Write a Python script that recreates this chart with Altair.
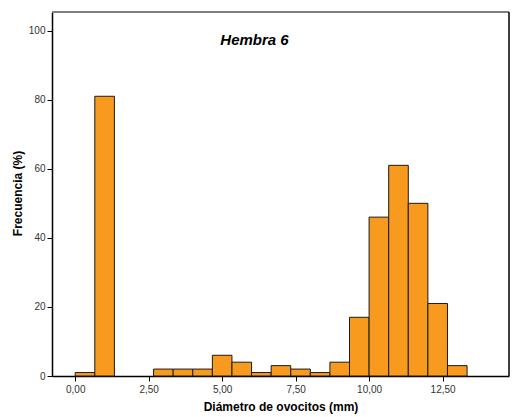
import altair as alt
import pandas as pd

# Histogram of oocyte diameter (bin width 2/3 mm, 20 bins from 0 to 13.33 mm)
bin_width = 2.0 / 3.0
bin_index = list(range(20))
frequency = [1, 81, 0, 0, 2, 2, 2, 6, 4, 1, 3, 2, 1, 4, 17, 46, 61, 50, 21, 3]

x_ticks = [0, 2.5, 5, 7.5, 10, 12.5]
y_ticks = [0, 20, 40, 60, 80, 100]

label_text = ["Hembra 6"]
label_x = [6.1]
label_y = [97.2]

bars = pd.DataFrame({
    "start": [i * bin_width for i in bin_index],
    "end": [(i + 1) * bin_width for i in bin_index],
    "freq": frequency,
    "base": [0] * len(bin_index),
})
bars = bars[bars["freq"] > 0]

x_scale = alt.Scale(domain=[-0.79, 14.76], nice=False, zero=False)
y_scale = alt.Scale(domain=[0, 105.4], nice=False)

FONT = "Liberation Sans"

hist = alt.Chart(bars).mark_bar(
    fill="#F89A1E", stroke="#1a1a1a", strokeWidth=1
).encode(
    x=alt.X("start:Q", scale=x_scale,
            axis=alt.Axis(values=x_ticks, title="Diámetro de ovocitos (mm)",
                          labelExpr="replace(format(datum.value, '.2f'), '.', ',')",
                          grid=False, tickSize=5, labelPadding=3, titlePadding=7)),
    x2="end:Q",
    y=alt.Y("freq:Q", scale=y_scale,
            axis=alt.Axis(values=y_ticks, title="Frecuencia (%)", format="d",
                          grid=False, tickSize=5, labelPadding=2,
                          titleX=-28, titleY=181)),
    y2="base:Q",
)

label = alt.Chart(pd.DataFrame({"t": label_text, "x": label_x, "y": label_y})).mark_text(
    font=FONT, fontSize=15, fontWeight="bold", fontStyle="italic", color="#000000"
).encode(
    x=alt.X("x:Q", scale=x_scale),
    y=alt.Y("y:Q", scale=y_scale),
    text="t:N",
)

# Frame: grey top edge, black right edge
top_edge = alt.Chart(pd.DataFrame({"a": [0]})).mark_rule(color="#7f7f7f", strokeWidth=2).encode(
    x=alt.value(0), x2=alt.value(457), y=alt.value(0)
)
right_edge = alt.Chart(pd.DataFrame({"a": [0]})).mark_rule(color="#000000", strokeWidth=1.5).encode(
    x=alt.value(457), y=alt.value(0), y2=alt.value(364)
)

chart = alt.layer(hist, label, top_edge, right_edge).properties(
    width=457,
    height=364,
    autosize=alt.AutoSizeParams(type="none"),
    padding={"left": 52, "top": 12, "right": 6, "bottom": 41},
    background="white",
).configure_view(
    stroke=None
).configure_axis(
    domainColor="#000000",
    domainWidth=1.5,
    tickColor="#000000",
    labelFont=FONT,
    labelFontSize=10,
    labelColor="#333333",
    titleFont=FONT,
    titleFontSize=12,
    titleFontWeight="bold",
    titleColor="#000000",
)

chart.save("out.html", embed_options={"renderer": "svg", "actions": False})
